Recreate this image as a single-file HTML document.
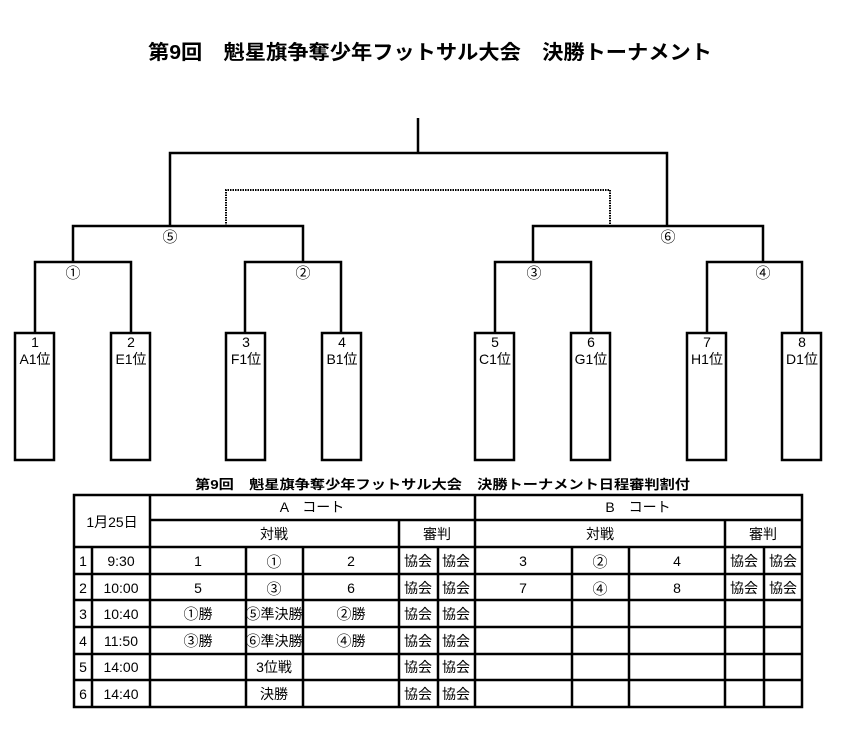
<!DOCTYPE html>
<html><head><meta charset="utf-8"><style>
html,body{margin:0;padding:0;background:#fff;}
svg{display:block;font-family:"Liberation Sans","Noto Sans CJK JP",sans-serif;}
.c{font-family:"Noto Sans CJK JP",sans-serif;font-size:15px;}
</style></head><body>
<svg width="842" height="738" viewBox="0 0 842 738">
<text x="148" y="59" font-size="20" font-weight="bold" textLength="564" lengthAdjust="spacingAndGlyphs">第9回　魁星旗争奪少年フットサル大会　決勝トーナメント</text>
<g stroke="#000" stroke-width="2.5" fill="none">
<path d="M418 118V153M170 226V153H667V226"/>
<path d="M73 262V226H303V262M533 262V226H763V262"/>
<path d="M35 333V262H131V333M245 333V262H341V333M495 333V262H591V333M707 333V262H802V333"/>
<rect x="15" y="333" width="39" height="127"/>
<rect x="111" y="333" width="39" height="127"/>
<rect x="226" y="333" width="39" height="127"/>
<rect x="322" y="333" width="39" height="127"/>
<rect x="475" y="333" width="39" height="127"/>
<rect x="571" y="333" width="39" height="127"/>
<rect x="687" y="333" width="39" height="127"/>
<rect x="782" y="333" width="39" height="127"/>
</g>
<path d="M226 226V190H610V226" stroke="#000" stroke-width="2" stroke-dasharray="1.5,1" fill="none"/>
<g font-size="14" text-anchor="middle">
<text class="c" x="170" y="242">⑤</text><text class="c" x="668" y="242">⑥</text>
<text class="c" x="73" y="278">①</text><text class="c" x="303" y="278">②</text><text class="c" x="534" y="278">③</text><text class="c" x="763" y="278">④</text>
<text x="35" y="347">1</text><text x="35" y="364">A1位</text>
<text x="131" y="347">2</text><text x="131" y="364">E1位</text>
<text x="246" y="347">3</text><text x="246" y="364">F1位</text>
<text x="342" y="347">4</text><text x="342" y="364">B1位</text>
<text x="495" y="347">5</text><text x="495" y="364">C1位</text>
<text x="591" y="347">6</text><text x="591" y="364">G1位</text>
<text x="707" y="347">7</text><text x="707" y="364">H1位</text>
<text x="802" y="347">8</text><text x="802" y="364">D1位</text>
</g>
<text x="195" y="489" font-size="13" font-weight="bold" textLength="495" lengthAdjust="spacingAndGlyphs">第9回　魁星旗争奪少年フットサル大会　決勝トーナメント日程審判割付</text>
<g stroke="#000" stroke-width="2.5" fill="none">
<rect x="74" y="495" width="728" height="212"/>
<path d="M150 520H802M150 547H802M74 547H802M74 574H802M74 600H802M74 627H802M74 654H802M74 680H802"/>
<path d="M150 495V707M475 495V707M92 547V707M246 547V707M303 547V707M399 520V707M438 547V707M572 547V707M629 547V707M725 520V707M764 547V707"/>
</g>
<g font-size="14" text-anchor="middle">
<text x="112" y="527">1月25日</text>
<text x="312" y="512">A　コート</text><text x="638" y="512">B　コート</text>
<text x="274" y="539">対戦</text><text x="437" y="539">審判</text>
<text x="600" y="539">対戦</text><text x="763" y="539">審判</text>
<text x="83" y="566">1</text><text x="121" y="566">9:30</text><text x="198" y="566">1</text><text class="c" x="274" y="567">①</text><text x="351" y="566">2</text>
<text x="83" y="593">2</text><text x="121" y="593">10:00</text><text x="198" y="593">5</text><text class="c" x="274" y="594">③</text><text x="351" y="593">6</text>
<text x="83" y="619">3</text><text x="121" y="619">10:40</text><text x="198" y="619"><tspan class="c">①</tspan>勝</text><text x="274" y="619"><tspan class="c">⑤</tspan>準決勝</text><text x="351" y="619"><tspan class="c">②</tspan>勝</text>
<text x="83" y="646">4</text><text x="121" y="646">11:50</text><text x="198" y="646"><tspan class="c">③</tspan>勝</text><text x="274" y="646"><tspan class="c">⑥</tspan>準決勝</text><text x="351" y="646"><tspan class="c">④</tspan>勝</text>
<text x="83" y="672">5</text><text x="121" y="672">14:00</text><text x="274" y="672">3位戦</text>
<text x="83" y="699">6</text><text x="121" y="699">14:40</text><text x="274" y="699">決勝</text>
<text x="418" y="566">協会</text><text x="456" y="566">協会</text>
<text x="418" y="593">協会</text><text x="456" y="593">協会</text>
<text x="418" y="619">協会</text><text x="456" y="619">協会</text>
<text x="418" y="646">協会</text><text x="456" y="646">協会</text>
<text x="418" y="672">協会</text><text x="456" y="672">協会</text>
<text x="418" y="699">協会</text><text x="456" y="699">協会</text>
<text x="523" y="566">3</text><text class="c" x="600" y="567">②</text><text x="677" y="566">4</text>
<text x="523" y="593">7</text><text class="c" x="600" y="594">④</text><text x="677" y="593">8</text>
<text x="744" y="566">協会</text><text x="783" y="566">協会</text>
<text x="744" y="593">協会</text><text x="783" y="593">協会</text>
</g>
</svg>
</body></html>
